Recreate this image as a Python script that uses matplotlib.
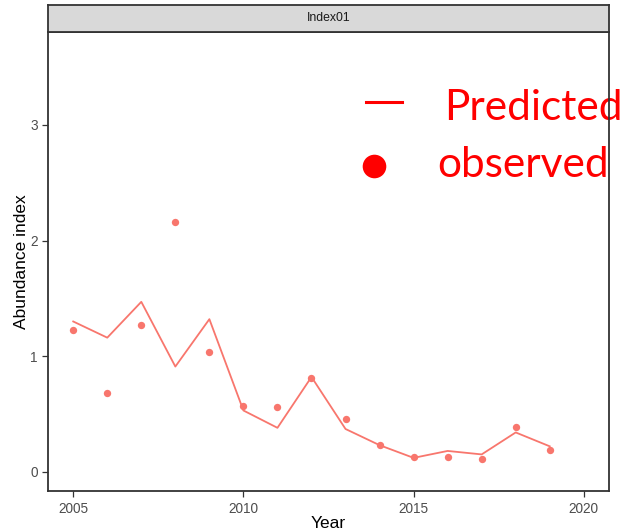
import matplotlib
matplotlib.use("Agg")
import matplotlib.pyplot as plt
from matplotlib.lines import Line2D

# Annual abundance index: model prediction and observed survey values
years = [2005, 2006, 2007, 2008, 2009, 2010, 2011, 2012,
         2013, 2014, 2015, 2016, 2017, 2018, 2019]
predicted = [1.30, 1.16, 1.47, 0.91, 1.32, 0.53, 0.38, 0.82,
             0.37, 0.23, 0.12, 0.18, 0.15, 0.34, 0.22]
observed = [1.23, 0.68, 1.27, 2.16, 1.04, 0.57, 0.56, 0.81,
            0.46, 0.23, 0.13, 0.13, 0.11, 0.39, 0.19]
panel_title = "Index01"
x_ticks = [2005, 2010, 2015, 2020]
y_ticks = [0, 1, 2, 3]
legend_labels = ["Predicted", "observed"]

series_color = "#F8766D"
legend_color = "#FF0000"
frame_color = "#333333"
text_color = "#4D4D4D"

plt.rcParams["font.family"] = ["Liberation Sans", "DejaVu Sans"]

W, H = 629, 531
fig = plt.figure(figsize=(W / 100, H / 100), dpi=100)

left, right = 47.7, 609.3
top, bottom = 31.7, 490.7
strip_top = 5.0

ax = fig.add_axes([left / W, 1 - bottom / H, (right - left) / W, (bottom - top) / H])
strip = fig.add_axes([left / W, 1 - top / H, (right - left) / W, (top - strip_top) / H])

ax.plot(years, predicted, color=series_color, lw=1.3, zorder=3)
ax.scatter(years, observed, color=series_color, s=28, linewidths=0, zorder=4)

ax.set_xlim(2004.25, 2020.75)
ax.set_ylim(-0.164, 3.807)
ax.set_xticks(x_ticks)
ax.set_yticks(y_ticks)
ax.set_xticklabels([str(t) for t in x_ticks])
ax.set_yticklabels([str(t) for t in y_ticks])
ax.tick_params(axis="both", length=4, width=0.9, color=frame_color,
               labelcolor=text_color, labelsize=9.8, pad=3)
ax.tick_params(axis="x", pad=4)
for sp in ax.spines.values():
    sp.set_color(frame_color)
    sp.set_linewidth(1.3)
    sp.set_zorder(5)

ax.set_xlabel("Year", fontsize=12.5, color="black", va="baseline")
ax.xaxis.set_label_coords(0.5, (bottom - 528.5) / (bottom - top))
ax.set_ylabel("Abundance index", fontsize=12.5, color="black", labelpad=1)

# Facet strip
strip.set_facecolor("#D9D9D9")
strip.set_xticks([])
strip.set_yticks([])
for sp in strip.spines.values():
    sp.set_color(frame_color)
    sp.set_linewidth(1.3)
strip.text(0.5, 0.5, panel_title, ha="center", va="center",
           fontsize=8.8, color="#1A1A1A", transform=strip.transAxes)

# Large annotation-style key in the upper right
def fx(px):
    return px / W

def fy(py):
    return 1 - py / H

ax.add_line(Line2D([fx(366), fx(402)], [fy(101.7), fy(101.7)],
                   transform=fig.transFigure, color=legend_color, lw=2.2,
                   clip_on=False, zorder=2))
ax.add_line(Line2D([fx(374)], [fy(166)], transform=fig.transFigure,
                   marker="o", markersize=17, color=legend_color,
                   markeredgewidth=0, linestyle="none", clip_on=False, zorder=2))
ax.text(fx(444), fy(120), legend_labels[0], transform=fig.transFigure,
        fontsize=30.5, color=legend_color, family=["Lato", "DejaVu Sans"],
        ha="left", va="baseline", clip_on=False, zorder=2)
ax.text(fx(437), fy(176.7), legend_labels[1], transform=fig.transFigure,
        fontsize=30.5, color=legend_color, family=["Lato", "DejaVu Sans"],
        ha="left", va="baseline", clip_on=False, zorder=2)

fig.savefig("out.png", dpi=100)
